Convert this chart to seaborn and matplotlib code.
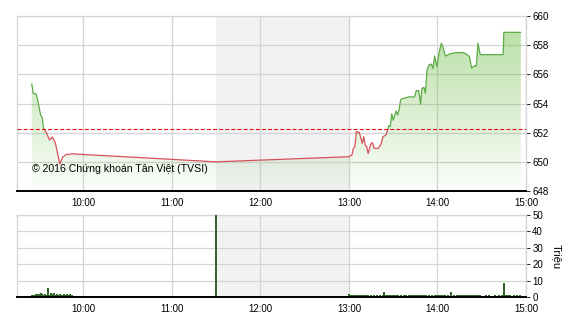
import numpy as np
import pandas as pd
import matplotlib
matplotlib.use("Agg")
import matplotlib.pyplot as plt
import seaborn as sns
from matplotlib.patches import Rectangle

# ---------------- data ----------------
price_times = ["09:25", "09:26", "09:28", "09:29", "09:31", "09:32", "09:33", "09:35",
               "09:37", "09:39", "09:41", "09:44", "09:46", "09:49", "09:50", "09:52",
               "11:30",
               "13:00", "13:02", "13:03", "13:04", "13:05", "13:07", "13:09", "13:10",
               "13:11", "13:12", "13:13", "13:15", "13:16", "13:17", "13:20", "13:22",
               "13:23", "13:25", "13:26", "13:27", "13:28", "13:29", "13:30", "13:32",
               "13:33", "13:34", "13:35", "13:36", "13:39", "13:41", "13:43", "13:44:30",
               "13:45:40", "13:47:15", "13:47:55", "13:48:35", "13:49:30", "13:50:50",
               "13:51:50", "13:52:55", "13:54:10", "13:55:50", "13:56:55", "13:58:05",
               "13:59:35", "14:01:00", "14:02:35", "14:03:40", "14:05:20", "14:08:10",
               "14:12:45", "14:17:15", "14:19:30", "14:21:45", "14:23:05", "14:24:40",
               "14:26:20", "14:27:25", "14:29:00", "14:44:30", "14:45:00", "14:56:30"]
price_values = [655.34, 654.70, 654.65, 654.24, 653.20, 653.07, 652.30, 651.98,
                651.50, 651.70, 651.30, 649.85, 650.33, 650.54, 650.50, 650.55,
                650.00,
                650.35, 650.47, 650.93, 651.04, 652.07, 652.02, 651.27, 651.72,
                651.15, 651.04, 650.58, 651.27, 651.31, 650.93, 650.93, 651.27,
                651.72, 651.84, 652.10, 652.48, 652.41, 653.30, 652.85, 653.50,
                653.20, 653.58, 654.24, 654.33, 654.40, 654.47, 654.43, 654.47,
                654.88, 654.88, 654.47, 653.95, 655.04, 655.10,
                654.70, 656.30, 656.64, 656.70, 656.40, 657.25,
                656.53, 657.44, 658.13, 657.90, 657.25, 657.40,
                657.49, 657.49, 657.40, 657.21, 656.42, 656.57,
                656.57, 658.13, 657.35, 657.35, 658.88, 658.88]
ref_price = 652.26

vol_times = (["09:%02d" % m for m in range(25, 53)] + ["11:30"]
             + ["13:%02d" % m for m in range(0, 60)] + ["14:%02d" % m for m in range(0, 31)]
             + ["14:33", "14:35", "14:39", "14:42", "14:44", "14:45",
                "14:46", "14:47", "14:48", "14:49", "14:50", "14:52", "14:54", "14:56"])
vol_values = ([1.2, 1.4, 1.4, 1.6, 1.6, 1.6, 2.6, 1.8, 1.4, 1.6, 1.4, 5.7, 1.2, 2.6,
               1.8, 2.2, 1.4, 1.6, 1.2, 1.6, 1.4, 1.2, 1.6, 1.4, 1.6, 1.4, 1.6, 1.4]
              + [50.0]
              + [1.6, 1.4, 1.4, 1.4, 1.4, 1.4, 1.4, 1.4, 1.4, 1.4,
                 1.4, 1.4, 1.4, 1.4, 0.9, 1.4, 0.9, 1.4, 0.9, 1.4,
                 0.9, 1.4, 0.9, 1.4, 2.9, 1.4, 1.4, 1.4, 1.4, 1.4,
                 1.4, 1.4, 1.4, 1.4, 0.9, 1.4, 0.9, 1.4, 0.9, 1.4,
                 0.9, 1.4, 1.4, 1.4, 1.4, 1.4, 1.4, 1.4, 1.4, 1.4,
                 1.4, 1.4, 1.4, 0.9, 1.4, 0.9, 1.4, 0.9, 1.4, 1.4,
                 1.4, 1.4, 1.4, 1.4, 1.4, 1.4, 0.9, 1.4, 0.9, 2.9,
                 0.9, 1.4, 0.9, 1.4, 1.4, 1.4, 1.4, 1.4, 1.4, 1.4,
                 1.4, 1.4, 1.4, 1.4, 1.4, 1.4, 1.4, 1.4, 1.4, 1.4,
                 0.9]
              + [1.0, 1.0, 1.0, 1.0, 1.0, 8.7, 1.4, 1.4, 1.4, 1.4, 0.9, 1.0, 1.0, 1.0])

price_ticks = [648, 650, 652, 654, 656, 658, 660]
vol_ticks = [0, 10, 20, 30, 40, 50]
hour_ticks = [10, 11, 12, 13, 14, 15]
hour_labels = ["10:00", "11:00", "12:00", "13:00", "14:00", "15:00"]
copyright_text = "© 2016 Chứng khoán Tân Việt (TVSI)"
vol_unit = "Triệu"


def to_hours(s):
    parts = [int(p) for p in s.split(":")]
    while len(parts) < 3:
        parts.append(0)
    return parts[0] + parts[1] / 60 + parts[2] / 3600


price_df = pd.DataFrame({"t": [to_hours(s) for s in price_times], "p": price_values})
vol_df = pd.DataFrame({"t": [to_hours(s) for s in vol_times], "v": vol_values})

# ---------------- style ----------------
sns.set_theme(style="white")
plt.rcParams['font.family'] = ['Liberation Sans', 'DejaVu Sans']

W, H = 570, 320
fig = plt.figure(figsize=(W / 100, H / 100), dpi=100)
ax1 = fig.add_axes([17 / W, 1 - 191 / H, 509 / W, 175 / H])
ax2 = fig.add_axes([17 / W, 1 - 297 / H, 509 / W, 82 / H])

XMIN, XMAX = 9.25, 15.0
grid_c = "#d4d4d4"
green_line = "#5cab48"
red_line = "#d8505a"

for ax, yticks in ((ax1, price_ticks), (ax2, vol_ticks)):
    ax.set_facecolor("white")
    ax.axvspan(11.5, 13.0, color="#f2f2f2", zorder=0, lw=0)
    for yt in yticks:
        ax.axhline(yt, color=grid_c, lw=0.9, zorder=0.5)
    for xt in hour_ticks:
        ax.axvline(xt, color=grid_c, lw=0.9, zorder=0.5)
    ax.set_xlim(XMIN, XMAX)
    ax.set_ylim(yticks[0], yticks[-1])
    ax.set_xticks(hour_ticks)
    ax.set_xticklabels(hour_labels)
    ax.set_yticks(yticks)
    ax.yaxis.tick_right()
    ax.tick_params(axis="x", length=0, pad=5, labelsize=7, colors="black")
    ax.tick_params(axis="y", length=3, width=0.6, pad=1.5, labelsize=7,
                   colors="black", left=False, right=True)
    for side in ("left", "top", "right"):
        ax.spines[side].set_color(grid_c)
        ax.spines[side].set_linewidth(0.9)
    ax.spines["bottom"].set_color("black")
    ax.spines["bottom"].set_linewidth(1.4)
    ax.spines["bottom"].set_zorder(10)
    ax.set_xlabel("")
    ax.set_ylabel("")

# ---------------- price panel ----------------
poly = ax1.fill_between(price_df["t"], price_df["p"], price_ticks[0],
                        facecolor="none", edgecolor="none")
n = 256
alpha = np.linspace(0.03, 0.50, n)
grad = np.zeros((n, 1, 4))
grad[:, 0, 0] = 0.42
grad[:, 0, 1] = 0.74
grad[:, 0, 2] = 0.26
grad[:, 0, 3] = alpha
im = ax1.imshow(grad, extent=[XMIN, XMAX, price_ticks[0], price_ticks[-1]],
                aspect="auto", origin="lower", zorder=1, interpolation="bilinear")
im.set_clip_path(poly.get_paths()[0], transform=ax1.transData)

sns.lineplot(data=price_df, x="t", y="p", ax=ax1, color=green_line, lw=0.9,
             estimator=None, sort=False, zorder=3)
line_up = ax1.lines[-1]
line_up.set_clip_path(Rectangle((XMIN, ref_price), XMAX - XMIN, 50,
                                transform=ax1.transData))
sns.lineplot(data=price_df, x="t", y="p", ax=ax1, color=red_line, lw=0.9,
             estimator=None, sort=False, zorder=3)
line_dn = ax1.lines[-1]
line_dn.set_clip_path(Rectangle((XMIN, ref_price - 50), XMAX - XMIN, 50,
                                transform=ax1.transData))

ax1.axhline(ref_price, color="#e01010", lw=0.8, ls=(0, (3.6, 1.9)), zorder=4)

ax1.text(9.415, 649.52, copyright_text, fontsize=7.6, color="black",
         ha="left", va="center", zorder=5)

ax1.set_xlim(XMIN, XMAX)
ax1.set_ylim(price_ticks[0], price_ticks[-1])
ax1.set_xlabel("")
ax1.set_ylabel("")

# ---------------- volume panel ----------------
ax2.vlines(vol_df["t"], 0, vol_df["v"], color="#33662a", lw=1.1, zorder=3,
           antialiased=False)
ax2.set_xlim(XMIN, XMAX)
ax2.set_ylim(vol_ticks[0], vol_ticks[-1])

fig.text(557 / W, 1 - 257 / H, vol_unit, rotation=270, ha="center", va="center",
         fontsize=8, color="black")

fig.savefig("out.png", dpi=100)
